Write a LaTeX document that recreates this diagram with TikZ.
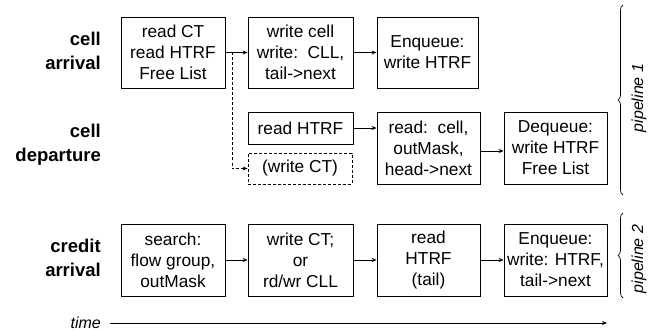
\documentclass[tikz,border=0pt]{standalone}
\usepackage{fontspec}
\setmainfont{Liberation Sans}
\usetikzlibrary{arrows.meta,decorations.pathreplacing}
\tikzset{
  box/.style={draw,line width=0.8pt,align=center,inner sep=0pt,
    font=\fontsize{17.3}{21}\selectfont},
  dbox/.style={box,dash pattern=on 3pt off 2pt},
  lbl/.style={anchor=east,align=right,inner sep=0pt,
    font=\fontsize{18.5}{24}\selectfont\bfseries},
  conn/.style={line width=0.8pt,-{Stealth[length=5pt,width=4pt]}},
  dconn/.style={conn,dash pattern=on 3pt off 2pt},
  ital/.style={font=\fontsize{16}{20}\selectfont\itshape,inner sep=0pt},
  brc/.style={decorate,decoration={brace,amplitude=5pt},line width=0.7pt}
}
\begin{document}
\begin{tikzpicture}[x=1pt,y=-1pt]
\useasboundingbox (0,0) rectangle (652,331);
% row labels
\node[lbl] (l1) at (101,51) {cell\\arrival};
\node[lbl] (l2) at (101,145) {cell\\departure};
\node[lbl] (l3) at (101,258) {credit\\arrival};
% row 1
\node[box,minimum width=104pt,minimum height=71pt] (a1) at (173,52.5) {read CT\\read HTRF\\Free List};
\node[box,minimum width=105pt,minimum height=71pt] (a2) at (300.5,52.5) {write cell\\write:~~CLL,\\tail->next};
\node[box,minimum width=101pt,minimum height=71pt] (a3) at (427.5,52.5) {Enqueue:\\write HTRF};
% row 2
\node[box,minimum width=105pt,minimum height=32pt] (b1) at (300.5,128) {read HTRF};
\node[dbox,minimum width=104pt,minimum height=31pt] (b0) at (300,168.5) {(write CT)};
\node[box,minimum width=103pt,minimum height=72pt] (b2) at (428.5,148) {read:~~cell,\\outMask,\\head->next};
\node[box,minimum width=103pt,minimum height=72pt] (b3) at (555.5,148) {Dequeue:\\write HTRF\\Free List};
% row 3
\node[box,minimum width=104pt,minimum height=72pt] (c1) at (173,260) {search:\\flow group,\\outMask};
\node[box,minimum width=105pt,minimum height=72pt] (c2) at (300.5,260) {write CT;\\or\\rd/wr CLL};
\node[box,minimum width=103pt,minimum height=72pt] (c3) at (428.5,260) {read\\HTRF\\(tail)};
\node[box,minimum width=103pt,minimum height=72pt] (c4) at (555.5,260) {Enqueue:\\write: HTRF,\\tail->next};
% connectors
\coordinate (split) at (232,52.5);
\draw[conn] (a1) -- (a2);
\draw[dconn] (split) |- (b0.west);
\draw[conn] (a2) -- (a3);
\draw[conn] (b1.east) -- (b2.west |- b1.east);
\draw[conn] ([yshift=-3pt]b2.east) -- ([yshift=-3pt]b3.west);
\draw[conn] (c1) -- (c2);
\draw[conn] (c2) -- (c3);
\draw[conn] (c3) -- (c4);
% time axis
\node[ital,anchor=east] (t) at (101,323) {time};
\coordinate (tend) at (607,323);
\draw[conn] ([xshift=9pt]t.east) -- (tend);
% braces
\coordinate (p1a) at (623,195);
\coordinate (p1b) at (623,5);
\coordinate (p2a) at (623,298);
\coordinate (p2b) at (623,213);
\draw[brc] (p1a) -- (p1b);
\draw[brc] (p2a) -- (p2b);
\node[ital,rotate=90] (pl1) at (639,98) {pipeline 1};
\node[ital,rotate=90] (pl2) at (639,259) {pipeline 2};
\end{tikzpicture}
\end{document}
